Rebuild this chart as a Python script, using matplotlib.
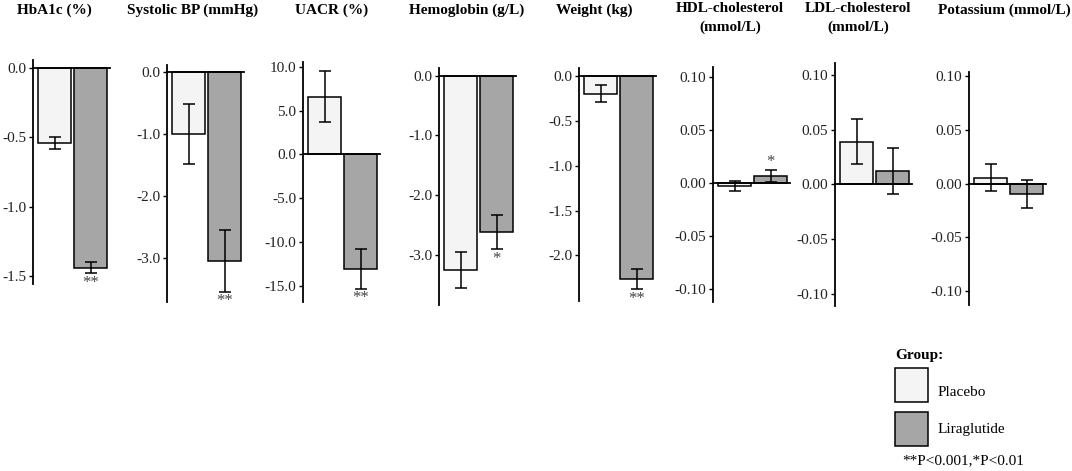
import matplotlib
matplotlib.use("Agg")
import matplotlib.pyplot as plt
from matplotlib.patches import Rectangle

plt.rcParams["font.family"] = ["Liberation Serif", "DejaVu Serif"]
plt.rcParams["axes.unicode_minus"] = False

# ── Data ──────────────────────────────────────────────────────────────────────

titles = ["HbA1c (%)", "Systolic BP (mmHg)", "UACR (%)", "Hemoglobin (g/L)",
          "Weight (kg)", "HDL-cholesterol\n(mmol/L)", "LDL-cholesterol\n(mmol/L)",
          "Potassium (mmol/L)"]
groups = ["Placebo", "Liraglutide"]

placebo_mean = [-0.54, -1.00, 6.6, -3.25, -0.20, -0.0025, 0.039, 0.0055]
placebo_err = [0.04, 0.48, 2.9, 0.30, 0.095, 0.0045, 0.0205, 0.0125]
lira_mean = [-1.44, -3.05, -13.1, -2.62, -2.26, 0.007, 0.012, -0.0095]
lira_err = [0.04, 0.50, 2.3, 0.29, 0.115, 0.0055, 0.021, 0.013]
sig = ["**", "**", "**", "*", "**", "*", "", ""]

yticks = [[0.0, -0.5, -1.0, -1.5],
          [0.0, -1.0, -2.0, -3.0],
          [10.0, 5.0, 0.0, -5.0, -10.0, -15.0],
          [0.0, -1.0, -2.0, -3.0],
          [0.0, -0.5, -1.0, -1.5, -2.0],
          [0.10, 0.05, 0.00, -0.05, -0.10],
          [0.10, 0.05, 0.00, -0.05, -0.10],
          [0.10, 0.05, 0.00, -0.05, -0.10]]
tick_fmt = ["%.1f"] * 5 + ["%.2f"] * 3
footnote = "**P<0.001,*P<0.01"

# ── Layout (pixels) ───────────────────────────────────────────────────────────

W, H = 1072, 471
axis_left = [33, 167, 303, 439, 579, 713, 835, 969]
axis_top = [60, 65, 62, 68, 68, 67, 63, 72]
axis_bottom = [284, 302, 302, 305, 301, 302, 306, 305]
ylims = [(-1.556, 0.058), (-3.71, 0.113), (-16.88, 10.55), (-3.84, 0.13),
         (-2.507, 0.089), (-0.1118, 0.1098), (-0.111, 0.1107), (-0.1128, 0.1036)]
title_x = [54, 193, 332, 467, 594, 730, 858, 1004]
title_y = [10, 10, 10, 10, 10, 18, 18, 10]
XLIM = (-0.6, 1.55)
PX_PER_UNIT = 36
COLORS = ["#f4f4f4", "#a6a6a6"]


def fx(x):
    return x / W


def fy(y):
    return 1 - y / H


fig = plt.figure(figsize=(W / 100, H / 100), dpi=100)

for i, title in enumerate(titles):
    width = (XLIM[1] - XLIM[0]) * PX_PER_UNIT
    ax = fig.add_axes([fx(axis_left[i]), fy(axis_bottom[i]),
                       width / W, (axis_bottom[i] - axis_top[i]) / H])
    ax.set_facecolor("none")
    ax.set_xlim(*XLIM)
    ax.set_ylim(*ylims[i])

    means = [placebo_mean[i], lira_mean[i]]
    errs = [placebo_err[i], lira_err[i]]
    ax.bar([0, 1], means, width=0.9, color=COLORS, edgecolor="black",
           linewidth=1.1, zorder=2)
    ax.errorbar([0, 1], means, yerr=errs, fmt="none", ecolor="black",
                elinewidth=1.1, capsize=4.5, capthick=1.1, zorder=3)

    # significance marks next to the liraglutide error bar
    if sig[i]:
        m, e = lira_mean[i], lira_err[i]
        if m >= 0:
            ax.annotate(sig[i], (1, m + e), xytext=(0, 0), textcoords="offset points",
                        ha="center", va="bottom", fontsize=12, color="#444")
        else:
            ax.annotate(sig[i], (1, m - e), xytext=(0, -1), textcoords="offset points",
                        ha="center", va="top", fontsize=12, color="#444")

    for s in ("top", "right"):
        ax.spines[s].set_visible(False)
    ax.spines["bottom"].set_position(("data", 0))
    ax.spines["bottom"].set_linewidth(1.3)
    ax.spines["left"].set_linewidth(1.3)
    ax.set_xticks([])
    ax.set_yticks(yticks[i])
    ax.set_yticklabels([tick_fmt[i] % v for v in yticks[i]])
    ax.tick_params(axis="y", length=3, width=1, labelsize=11, pad=2,
                   labelcolor="#222")

    fig.text(fx(title_x[i]), fy(title_y[i]), title, ha="center", va="center",
             fontsize=11, fontweight="bold", linespacing=1.45)

# ── Legend ────────────────────────────────────────────────────────────────────

fig.text(fx(895), fy(355), "Group:", ha="left", va="center",
         fontsize=11, fontweight="bold")
box_top = [368, 412]
label_y = [393, 430]
for k, g in enumerate(groups):
    fig.add_artist(Rectangle((fx(895), fy(box_top[k] + 34)), 33 / W, 34 / H,
                             transform=fig.transFigure, facecolor=COLORS[k],
                             edgecolor="black", linewidth=1.1))
    fig.text(fx(938), fy(label_y[k]), g, ha="left", va="center", fontsize=11)
fig.text(fx(902), fy(461), footnote, ha="left", va="center", fontsize=11)

fig.savefig("out.png", dpi=100)
